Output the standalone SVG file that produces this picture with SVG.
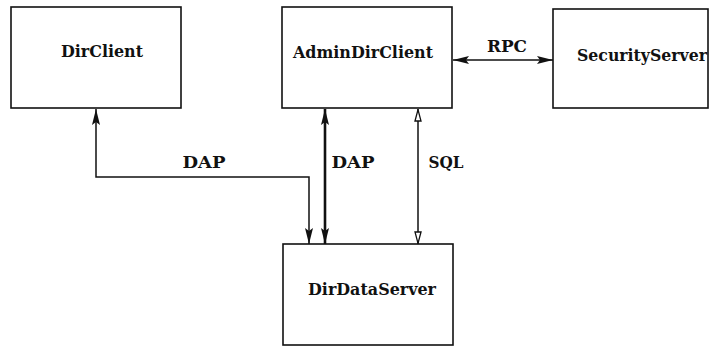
<svg xmlns="http://www.w3.org/2000/svg" width="710" height="347" viewBox="0 0 710 347">
<style>
.box{fill:#fff;stroke:#111;stroke-width:1.6}
.t{font-family:'DejaVu Serif','Liberation Serif',serif;font-weight:bold;font-size:16px;fill:#111;text-anchor:middle}
.c{fill:none;stroke:#111;stroke-width:1.5}
.thick{stroke-width:2.6}
</style>
<defs>
<marker id="fa" viewBox="0 0 16 9" refX="16" refY="4.5" markerWidth="16" markerHeight="9" markerUnits="userSpaceOnUse" orient="auto-start-reverse">
<path d="M0,0.5 L16,4.5 L0,8.5 L3,4.5 Z" fill="#111"/>
</marker>
<marker id="oa" viewBox="0 0 13 8" refX="13" refY="4" markerWidth="13" markerHeight="8" markerUnits="userSpaceOnUse" orient="auto-start-reverse">
<path d="M1,1 L12.3,4 L1,7 Z" fill="#fff" stroke="#111" stroke-width="1.3"/>
</marker>
</defs>
<g id="connectors">
<path class="c" d="M96,109 V177 H309 V244" marker-start="url(#fa)" marker-end="url(#fa)"/>
<path class="c thick" d="M325,109 V244" marker-start="url(#fa)" marker-end="url(#fa)"/>
<path class="c" d="M418,109 V244" marker-start="url(#oa)" marker-end="url(#oa)"/>
<path class="c" d="M453,60 H553" marker-start="url(#fa)" marker-end="url(#fa)"/>
<text class="t" x="507" y="52" textLength="40" lengthAdjust="spacingAndGlyphs">RPC</text>
<text class="t" x="204" y="168" textLength="43" lengthAdjust="spacingAndGlyphs">DAP</text>
<text class="t" x="353" y="168" textLength="43" lengthAdjust="spacingAndGlyphs">DAP</text>
<text class="t" x="446" y="168" textLength="35" lengthAdjust="spacingAndGlyphs">SQL</text>
</g>
<g id="DirClient">
<rect class="box" x="11" y="7" width="170" height="101"/>
<text class="t" x="102" y="57" textLength="82" lengthAdjust="spacingAndGlyphs">DirClient</text>
</g>
<g id="AdminDirClient">
<rect class="box" x="282" y="7" width="170" height="101"/>
<text class="t" x="363" y="58" textLength="140" lengthAdjust="spacingAndGlyphs">AdminDirClient</text>
</g>
<g id="SecurityServer">
<rect class="box" x="553" y="9" width="155" height="99"/>
<text class="t" x="642" y="61" textLength="130" lengthAdjust="spacingAndGlyphs">SecurityServer</text>
</g>
<g id="DirDataServer">
<rect class="box" x="283" y="244" width="170" height="101"/>
<text class="t" x="372" y="295" textLength="128" lengthAdjust="spacingAndGlyphs">DirDataServer</text>
</g>
</svg>
